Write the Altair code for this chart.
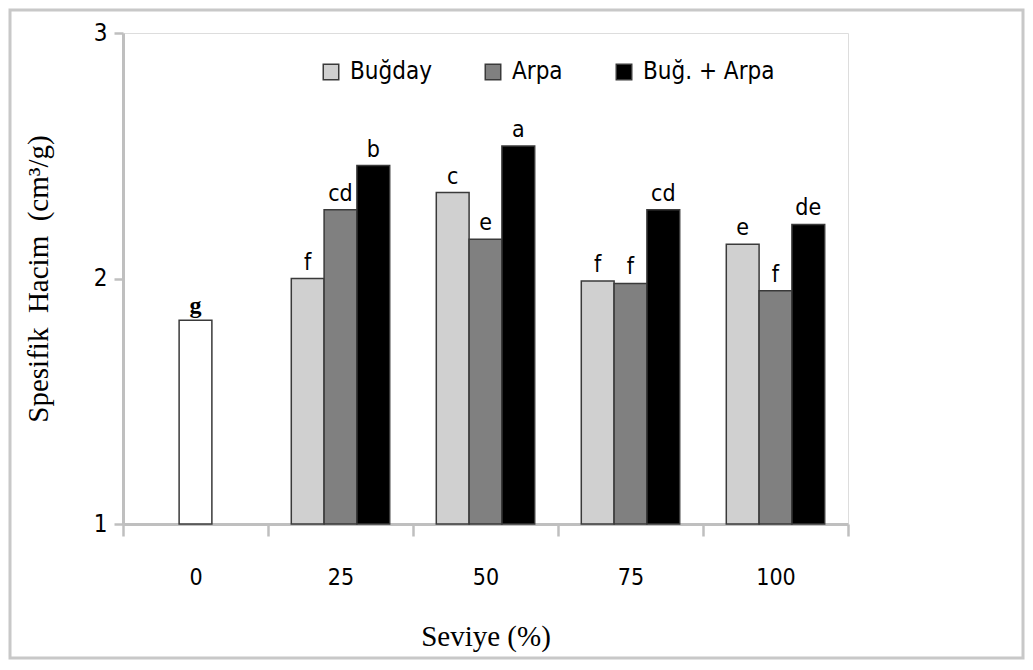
import altair as alt
import pandas as pd

levels = ["0", "25", "50", "75", "100"]
series = ["Buğday", "Arpa", "Buğ. + Arpa"]
series_colors = ["#d0d0d0", "#808080", "#000000"]

control_level = "0"
control_value = 1.83
control_letter = "g"

treated_levels = ["25", "50", "75", "100"]
bugday = [2.00, 2.35, 1.99, 2.14]
arpa = [2.28, 2.16, 1.98, 1.95]
karisim = [2.46, 2.54, 2.28, 2.22]
bugday_letters = ["f", "c", "f", "e"]
arpa_letters = ["cd", "e", "f", "f"]
karisim_letters = ["b", "a", "cd", "de"]
y_ticks = [1, 2, 3]

rows = []
for vals, lets, s in [(bugday, bugday_letters, series[0]),
                      (arpa, arpa_letters, series[1]),
                      (karisim, karisim_letters, series[2])]:
    for lv, v, l in zip(treated_levels, vals, lets):
        rows.append({"Seviye": lv, "Seri": s, "Deger": v, "Harf": l})
df = pd.DataFrame(rows)
ctrl = pd.DataFrame([{"Seviye": control_level, "Deger": control_value, "Harf": control_letter}])

W, H = 725, 491
label_font = "DejaVu Sans Condensed, DejaVu Sans, sans-serif"
serif = "Liberation Serif, DejaVu Serif, serif"

x_axis = alt.Axis(
    title="Seviye (%)", tickBand="extent", labelAngle=0,
    labelFont=label_font, labelFontSize=23, labelColor="#000000",
    labelPadding=30, tickSize=12, tickColor="#bfbfbf", tickWidth=2.5,
    domainColor="#bfbfbf", domainWidth=3,
    titleFont=serif, titleFontSize=29, titleFontWeight="normal",
    titleColor="#000000", titlePadding=33,
)
y_axis = alt.Axis(
    title="Spesifik\u00a0\u00a0Hacim\u00a0\u00a0(cm³/g)", values=y_ticks, format=".0f",
    tickCount=len(y_ticks), grid=False, labelOverlap=False,
    labelFont=label_font, labelFontSize=24, labelColor="#000000",
    labelPadding=7, tickSize=9, tickColor="#bfbfbf", tickWidth=2.5,
    domainColor="#bfbfbf", domainWidth=3,
    titleFont=serif, titleFontSize=29, titleFontWeight="normal",
    titleColor="#000000", titlePadding=40,
)
x_scale = alt.Scale(domain=levels, paddingInner=0, paddingOuter=0)
y_scale = alt.Scale(domain=[1, 3], nice=False, zero=False)


def xe():
    return alt.X("Seviye:N", sort=levels, scale=x_scale, axis=x_axis)


def ye():
    return alt.Y("Deger:Q", scale=y_scale, axis=y_axis)


def xo():
    return alt.XOffset("Seri:N", sort=series,
                       scale=alt.Scale(domain=series, paddingOuter=0.71, paddingInner=0))


bars = alt.Chart(df).mark_bar(stroke="#3a3a3a", strokeWidth=1.5).encode(
    x=xe(), xOffset=xo(), y=ye(), y2=alt.datum(1),
    color=alt.Color(
        "Seri:N", sort=series,
        scale=alt.Scale(domain=series, range=series_colors),
        legend=alt.Legend(
            title=None, orient="none", direction="horizontal",
            legendX=196, legendY=27, symbolType="square", symbolSize=240,
            symbolStrokeColor="#3a3a3a", symbolStrokeWidth=1.5,
            labelFont=label_font, labelFontSize=24, labelColor="#000000",
            columnPadding=49, labelOffset=7,
        ),
    ),
)
bar_text = alt.Chart(df).mark_text(
    baseline="bottom", dy=-4, font=label_font, fontSize=23, color="#000000"
).encode(x=xe(), xOffset=xo(), y=ye(), text="Harf:N")

ctrl_bar = alt.Chart(ctrl).mark_bar(
    fill="#ffffff", stroke="#3a3a3a", strokeWidth=1.5, width={"band": 0.226}
).encode(x=xe(), y=ye(), y2=alt.datum(1))
ctrl_text = alt.Chart(ctrl).mark_text(
    baseline="bottom", dy=-2, font=serif, fontSize=24, fontWeight="bold", color="#000000"
).encode(x=xe(), y=ye(), text="Harf:N")

frame = alt.Chart(ctrl).mark_rect(
    fill="transparent", stroke="#c8c8c8", strokeWidth=3, clip=False
).encode(x=alt.value(-113), x2=alt.value(W + 175),
         y=alt.value(-23), y2=alt.value(H + 134))

chart = alt.layer(bars, bar_text, ctrl_bar, ctrl_text, frame).properties(
    width=W, height=H,
    autosize=alt.AutoSizeParams(type="none"),
    padding={"left": 115, "top": 25, "right": 177, "bottom": 137},
).configure_view(stroke=None).configure_axis(labelOverlap=False).configure(background="#ffffff")

chart.save("out.html", embed_options={"renderer": "svg", "actions": False})
